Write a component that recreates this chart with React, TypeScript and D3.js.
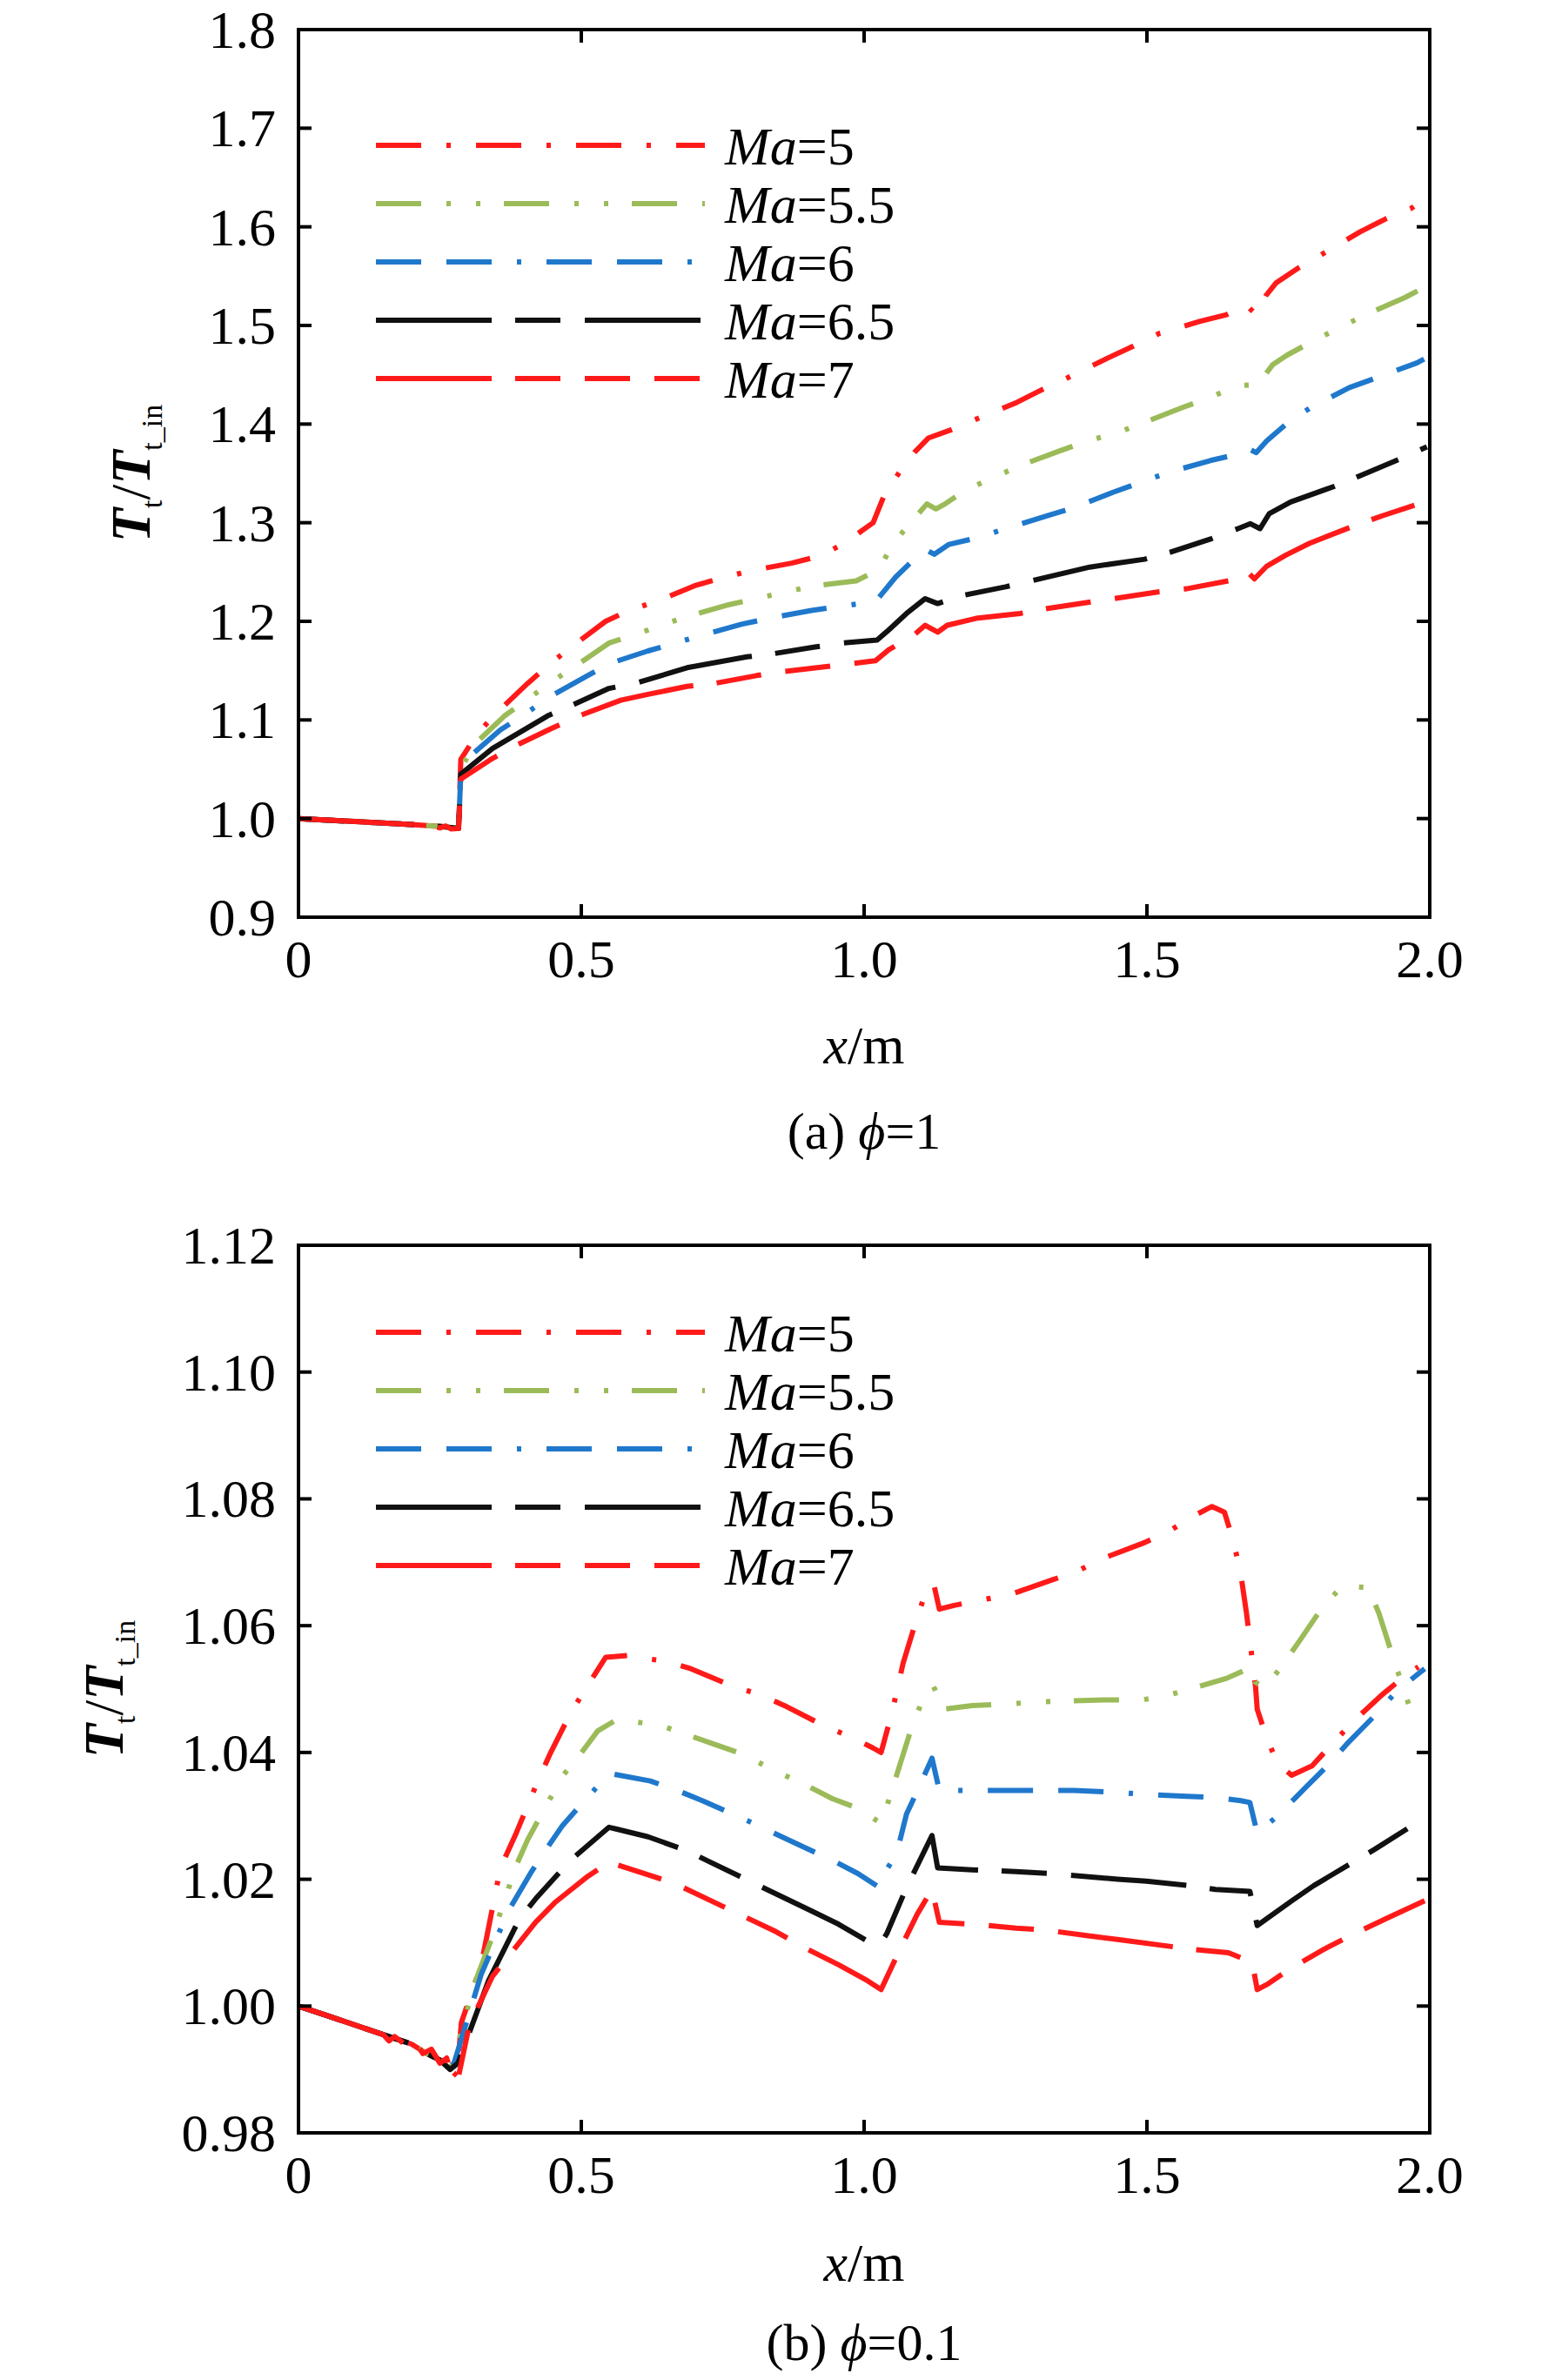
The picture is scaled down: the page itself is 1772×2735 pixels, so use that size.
import * as d3 from "d3"

type Pt = [number, number]

// ---- data ----
const xTicks = [0, 0.5, 1, 1.5, 2]
const xTickLabels = ["0", "0.5", "1.0", "1.5", "2.0"]
const yTicksA = [0.9, 1.0, 1.1, 1.2, 1.3, 1.4, 1.5, 1.6, 1.7, 1.8]
const yTicksB = [0.98, 1.0, 1.02, 1.04, 1.06, 1.08, 1.1, 1.12]
const seriesNames = ["5", "5.5", "6", "6.5", "7"]

const startA: Pt[] = [[0, 1.0], [0.1, 0.997], [0.2, 0.994], [0.25, 0.992], [0.27, 0.991], [0.283, 0.99]]
const startB: Pt[] = [[0, 1.0], [0.05, 0.9985], [0.1, 0.997], [0.15, 0.9955], [0.2, 0.994], [0.227, 0.9925], [0.25, 0.9915], [0.268, 0.99]]

const a5: Pt[] = [...startA, [0.287, 1.06], [0.316, 1.086], [0.35, 1.107], [0.405, 1.137], [0.443, 1.156], [0.48, 1.173], [0.543, 1.2], [0.584, 1.211], [0.632, 1.22], [0.7, 1.236], [0.749, 1.244], [0.797, 1.251], [0.872, 1.259], [0.92, 1.266], [0.962, 1.278], [1.016, 1.3], [1.037, 1.33], [1.066, 1.354], [1.09, 1.372], [1.114, 1.386], [1.153, 1.394], [1.198, 1.405], [1.27, 1.422], [1.315, 1.435], [1.36, 1.447], [1.431, 1.467], [1.476, 1.479], [1.522, 1.492], [1.593, 1.504], [1.641, 1.511], [1.675, 1.521], [1.693, 1.511], [1.71, 1.53], [1.728, 1.543], [1.767, 1.558], [1.812, 1.573], [1.877, 1.595], [1.922, 1.608], [1.968, 1.619], [1.995, 1.63]]
const a55: Pt[] = [...startA, [0.287, 1.05], [0.309, 1.074], [0.364, 1.104], [0.405, 1.121], [0.446, 1.138], [0.488, 1.154], [0.549, 1.178], [0.598, 1.187], [0.646, 1.197], [0.694, 1.206], [0.762, 1.217], [0.81, 1.223], [0.862, 1.23], [0.913, 1.236], [0.986, 1.241], [1.027, 1.253], [1.05, 1.278], [1.082, 1.3], [1.111, 1.319], [1.127, 1.314], [1.143, 1.319], [1.182, 1.334], [1.23, 1.346], [1.276, 1.358], [1.347, 1.373], [1.395, 1.383], [1.447, 1.391], [1.492, 1.401], [1.564, 1.417], [1.612, 1.427], [1.66, 1.439], [1.696, 1.44], [1.722, 1.46], [1.748, 1.47], [1.793, 1.484], [1.838, 1.497], [1.887, 1.511], [1.955, 1.528], [1.995, 1.54]]
const a6: Pt[] = [...startA, [0.287, 1.045], [0.299, 1.061], [0.357, 1.09], [0.398, 1.105], [0.443, 1.123], [0.505, 1.143], [0.549, 1.157], [0.618, 1.17], [0.666, 1.178], [0.714, 1.186], [0.783, 1.197], [0.831, 1.203], [0.907, 1.211], [0.955, 1.215], [1.006, 1.219], [1.023, 1.222], [1.056, 1.245], [1.092, 1.265], [1.108, 1.273], [1.124, 1.268], [1.15, 1.278], [1.202, 1.285], [1.25, 1.294], [1.324, 1.307], [1.37, 1.315], [1.441, 1.331], [1.489, 1.341], [1.538, 1.351], [1.612, 1.363], [1.657, 1.369], [1.683, 1.374], [1.693, 1.371], [1.712, 1.383], [1.748, 1.401], [1.79, 1.417], [1.858, 1.437], [1.906, 1.447], [1.977, 1.462], [1.99, 1.466]]
const a65: Pt[] = [...startA, [0.287, 1.045], [0.343, 1.071], [0.44, 1.104], [0.484, 1.115], [0.549, 1.132], [0.601, 1.138], [0.687, 1.153], [0.793, 1.164], [0.838, 1.167], [0.913, 1.174], [0.962, 1.178], [1.023, 1.181], [1.043, 1.191], [1.075, 1.208], [1.108, 1.223], [1.13, 1.218], [1.172, 1.226], [1.25, 1.235], [1.295, 1.241], [1.399, 1.255], [1.496, 1.263], [1.541, 1.27], [1.615, 1.284], [1.661, 1.294], [1.683, 1.299], [1.7, 1.294], [1.716, 1.309], [1.754, 1.321], [1.832, 1.337], [1.874, 1.347], [1.945, 1.364], [1.995, 1.377]]
const a7: Pt[] = [[0, 1.0], [0.1, 0.997], [0.2, 0.994], [0.24, 0.992], [0.25, 0.9905], [0.26, 0.9925], [0.27, 0.9895], [0.283, 0.99], [0.287, 1.04], [0.343, 1.061], [0.388, 1.075], [0.446, 1.091], [0.5, 1.105], [0.57, 1.12], [0.618, 1.126], [0.687, 1.134], [0.735, 1.137], [0.81, 1.145], [0.858, 1.149], [0.962, 1.156], [1.02, 1.16], [1.043, 1.171], [1.088, 1.186], [1.108, 1.196], [1.13, 1.189], [1.147, 1.196], [1.198, 1.203], [1.276, 1.208], [1.324, 1.213], [1.522, 1.23], [1.57, 1.233], [1.644, 1.241], [1.678, 1.25], [1.69, 1.243], [1.712, 1.256], [1.745, 1.267], [1.787, 1.279], [1.858, 1.295], [1.916, 1.307], [1.98, 1.319]]

const b5: Pt[] = [...startB, [0.28, 0.989], [0.288, 0.9974], [0.323, 1.0065], [0.357, 1.0218], [0.385, 1.0273], [0.426, 1.0361], [0.446, 1.04], [0.481, 1.0462], [0.508, 1.0501], [0.543, 1.055], [0.584, 1.0553], [0.598, 1.055], [0.649, 1.0544], [0.694, 1.0532], [0.769, 1.0504], [0.814, 1.0492], [0.859, 1.0474], [0.927, 1.0443], [0.975, 1.0425], [1.016, 1.0407], [1.03, 1.04], [1.049, 1.0462], [1.069, 1.0541], [1.091, 1.0605], [1.107, 1.0648], [1.123, 1.0666], [1.133, 1.0626], [1.159, 1.0632], [1.21, 1.0641], [1.255, 1.0648], [1.332, 1.0672], [1.377, 1.0686], [1.422, 1.0706], [1.493, 1.073], [1.538, 1.0748], [1.576, 1.077], [1.615, 1.0788], [1.637, 1.0779], [1.653, 1.0733], [1.666, 1.0681], [1.676, 1.062], [1.682, 1.0577], [1.692, 1.0504], [1.695, 1.0468], [1.711, 1.0425], [1.731, 1.0382], [1.756, 1.0364], [1.792, 1.0379], [1.827, 1.0413], [1.866, 1.045], [1.917, 1.0492], [1.955, 1.052], [1.98, 1.0535]]
const b55: Pt[] = [...startB, [0.275, 0.9916], [0.309, 1.003], [0.343, 1.011], [0.385, 1.0222], [0.405, 1.0262], [0.433, 1.0308], [0.467, 1.0363], [0.498, 1.0397], [0.529, 1.0434], [0.563, 1.0452], [0.639, 1.0443], [0.687, 1.0428], [0.735, 1.0413], [0.783, 1.0398], [0.852, 1.0367], [0.896, 1.0349], [0.944, 1.0327], [0.989, 1.0312], [1.03, 1.0288], [1.036, 1.0303], [1.081, 1.0431], [1.107, 1.0492], [1.123, 1.0504], [1.139, 1.0468], [1.191, 1.0474], [1.261, 1.0477], [1.316, 1.048], [1.422, 1.0483], [1.493, 1.0483], [1.544, 1.0492], [1.592, 1.0504], [1.641, 1.0517], [1.686, 1.0535], [1.692, 1.0511], [1.708, 1.0501], [1.74, 1.0538], [1.769, 1.0575], [1.811, 1.063], [1.846, 1.0663], [1.891, 1.066], [1.91, 1.062], [1.933, 1.0556], [1.965, 1.047], [1.985, 1.046]]
const b6: Pt[] = [...startB, [0.275, 0.991], [0.323, 1.005], [0.371, 1.015], [0.412, 1.0212], [0.44, 1.025], [0.467, 1.0285], [0.515, 1.0333], [0.549, 1.0367], [0.622, 1.0355], [0.67, 1.034], [0.714, 1.0324], [0.783, 1.0297], [0.893, 1.0251], [0.944, 1.023], [0.989, 1.0209], [1.027, 1.0187], [1.03, 1.02], [1.058, 1.0242], [1.075, 1.0303], [1.097, 1.0345], [1.12, 1.0391], [1.133, 1.034], [1.191, 1.034], [1.268, 1.034], [1.371, 1.034], [1.448, 1.0337], [1.493, 1.0334], [1.57, 1.0331], [1.618, 1.0329], [1.666, 1.0324], [1.682, 1.0321], [1.695, 1.0273], [1.731, 1.03], [1.782, 1.0346], [1.82, 1.038], [1.853, 1.0413], [1.907, 1.0462], [1.943, 1.0498], [1.991, 1.0532]]
const b65: Pt[] = [...startB, [0.282, 0.991], [0.336, 1.004], [0.391, 1.0138], [0.422, 1.0172], [0.481, 1.023], [0.549, 1.0282], [0.563, 1.0279], [0.618, 1.0267], [0.687, 1.0245], [0.728, 1.0227], [0.907, 1.015], [0.955, 1.0129], [1.013, 1.0099], [1.03, 1.01], [1.04, 1.0114], [1.075, 1.0187], [1.12, 1.0269], [1.13, 1.0218], [1.191, 1.0215], [1.268, 1.0212], [1.332, 1.0209], [1.448, 1.02], [1.499, 1.0197], [1.576, 1.019], [1.621, 1.0184], [1.682, 1.0181], [1.695, 1.0127], [1.756, 1.0166], [1.795, 1.019], [1.859, 1.0224], [1.904, 1.0248], [1.991, 1.0297]]
const b7: Pt[] = [[0, 1.0], [0.05, 0.9985], [0.1, 0.997], [0.15, 0.9955], [0.16, 0.9945], [0.17, 0.9952], [0.19, 0.9938], [0.205, 0.9946], [0.22, 0.9925], [0.235, 0.9932], [0.25, 0.991], [0.262, 0.9918], [0.27, 0.9895], [0.282, 0.9885], [0.302, 0.997], [0.343, 1.0047], [0.419, 1.0132], [0.453, 1.0163], [0.512, 1.0205], [0.549, 1.0227], [0.625, 1.0205], [0.666, 1.0193], [0.845, 1.0117], [0.886, 1.0096], [0.955, 1.0065], [1.006, 1.004], [1.03, 1.0026], [1.062, 1.0087], [1.094, 1.0145], [1.12, 1.0184], [1.133, 1.0132], [1.197, 1.0129], [1.268, 1.0123], [1.319, 1.012], [1.396, 1.0111], [1.448, 1.0105], [1.576, 1.009], [1.644, 1.0084], [1.686, 1.0069], [1.695, 1.0026], [1.714, 1.0035], [1.753, 1.0059], [1.814, 1.009], [1.866, 1.0114], [1.923, 1.0138], [1.991, 1.0166]]

// line styles per Mach number
const colors = ["#ff1a1a", "#9bbb59", "#1f78cc", "#111111", "#ff1a1a"]
const dashes = ["52 29 5 29", "52 29 5 29 5 27", "52 29 52 29 5 29", "133 27 52 28", "133 27 52 28 52 28 52 28"]

const FONT = "'Liberation Serif', 'Times New Roman', serif"

interface PanelProps {
  top: number
  bottom: number
  yDomain: [number, number]
  yTicks: number[]
  yFmt: (v: number) => string
  series: Pt[][]
  legendY: number[]
  yTitleX: number
  xTitleY: number
  captionY: number
  caption: string
  phiValue: string
}

function Panel(p: PanelProps) {
  const left = 343
  const right = 1643
  const x = d3.scaleLinear().domain([0, 2]).range([left, right])
  const y = d3.scaleLinear().domain(p.yDomain).range([p.bottom, p.top])
  const line = d3
    .line<Pt>()
    .x((d) => x(d[0]))
    .y((d) => y(d[1]))
  const tick = 15
  const midY = (p.top + p.bottom) / 2

  return (
    <g fontFamily={FONT}>
      {/* curves */}
      {p.series.map((s, i) => (
        <path
          key={i}
          d={line(s) ?? ""}
          fill="none"
          stroke={colors[i]}
          strokeWidth={6}
          strokeDasharray={dashes[i]}
          strokeLinejoin="round"
        />
      ))}

      {/* frame and ticks */}
      <rect x={left} y={p.top} width={right - left} height={p.bottom - p.top} fill="none" stroke="#000" strokeWidth={4} />
      {xTicks.slice(1, -1).map((t) => (
        <g key={t}>
          <line x1={x(t)} x2={x(t)} y1={p.bottom} y2={p.bottom - tick} stroke="#000" strokeWidth={4} />
          <line x1={x(t)} x2={x(t)} y1={p.top} y2={p.top + tick} stroke="#000" strokeWidth={4} />
        </g>
      ))}
      {p.yTicks.slice(1, -1).map((t) => (
        <g key={t}>
          <line x1={left} x2={left + tick} y1={y(t)} y2={y(t)} stroke="#000" strokeWidth={4} />
          <line x1={right} x2={right - tick} y1={y(t)} y2={y(t)} stroke="#000" strokeWidth={4} />
        </g>
      ))}

      {/* tick labels */}
      {xTicks.map((t, i) => (
        <text key={t} x={x(t)} y={p.bottom + 69} textAnchor="middle" fontSize={62}>
          {xTickLabels[i]}
        </text>
      ))}
      {p.yTicks.map((t) => (
        <text key={t} x={left - 26} y={y(t) + 21} textAnchor="end" fontSize={62}>
          {p.yFmt(t)}
        </text>
      ))}

      {/* axis titles */}
      <text x={(left + right) / 2} y={p.xTitleY} textAnchor="middle" fontSize={62}>
        <tspan fontStyle="italic">x</tspan>/m
      </text>
      <text transform={`translate(${p.yTitleX},${midY}) rotate(-90)`} textAnchor="middle" fontSize={64}>
        <tspan fontStyle="italic" fontWeight="bold">T</tspan>
        <tspan fontSize={34} dy={14}>t</tspan>
        <tspan dy={-14}>/</tspan>
        <tspan fontStyle="italic" fontWeight="bold">T</tspan>
        <tspan fontSize={34} dy={14}>t_in</tspan>
      </text>
      <text x={(left + right) / 2} y={p.captionY} textAnchor="middle" fontSize={60}>
        {p.caption} <tspan fontStyle="italic">ϕ</tspan>={p.phiValue}
      </text>

      {/* legend */}
      {seriesNames.map((m, i) => (
        <g key={m}>
          <line
            x1={432}
            x2={810}
            y1={p.legendY[i]}
            y2={p.legendY[i]}
            stroke={colors[i]}
            strokeWidth={6}
            strokeDasharray={dashes[i]}
          />
          <text x={833} y={p.legendY[i] + 22} fontSize={62}>
            <tspan fontStyle="italic">Ma</tspan>={m}
          </text>
        </g>
      ))}
    </g>
  )
}

export default function App() {
  return (
    <svg
      width={1772}
      height={2735}
      viewBox="0 0 1772 2735"
      style={{ position: "absolute", left: 0, top: 0, background: "#fff" }}
    >
      <rect width={1772} height={2735} fill="#fff" />
      <Panel
        top={34}
        bottom={1054}
        yDomain={[0.9, 1.8]}
        yTicks={yTicksA}
        yFmt={d3.format(".1f")}
        series={[a5, a55, a6, a65, a7]}
        legendY={[167, 234, 301, 368, 435]}
        yTitleX={172}
        xTitleY={1222}
        captionY={1320}
        caption="(a)"
        phiValue="1"
      />
      <Panel
        top={1431}
        bottom={2451}
        yDomain={[0.98, 1.12]}
        yTicks={yTicksB}
        yFmt={d3.format(".2f")}
        series={[b5, b55, b6, b65, b7]}
        legendY={[1531, 1598, 1665, 1732, 1799]}
        yTitleX={141}
        xTitleY={2621}
        captionY={2712}
        caption="(b)"
        phiValue="0.1"
      />
    </svg>
  )
}
